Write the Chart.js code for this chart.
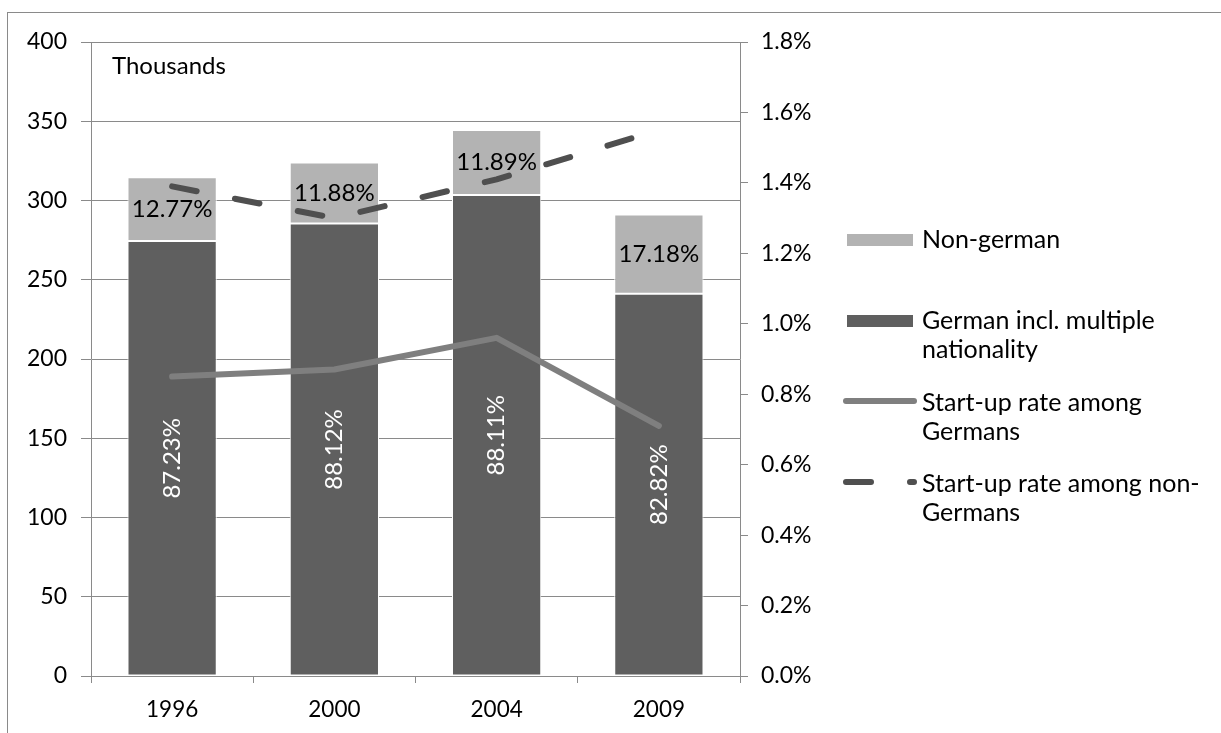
<!DOCTYPE html>
<html>
<head>
<meta charset="utf-8">
<script src="https://cdn.jsdelivr.net/npm/chart.js@4.4.1/dist/chart.umd.min.js"></script>
<style>
  html, body { margin: 0; padding: 0; background: #ffffff; }
  canvas { display: block; }
</style>
</head>
<body>
<canvas id="chart" width="1221" height="733"></canvas>
<script>
// values (thousands / percent)
const years = ["1996", "2000", "2004", "2009"];
const germanValues = [274.4, 285.5, 303.5, 241.1];
const nonGermanValues = [40.2, 38.5, 41.0, 50.0];
const germanShareLabels = ["87.23%", "88.12%", "88.11%", "82.82%"];
const nonGermanShareLabels = ["12.77%", "11.88%", "11.89%", "17.18%"];
const rateGermans = [0.85, 0.87, 0.96, 0.71];
const rateNonGermans = [1.39, 1.30, 1.41, 1.55];

const FONT = "Lato, 'Open Sans', sans-serif";
const gridColor = "#8a8a8a";

const legendEntries = [
  { ds: 1, lines: ["Non-german"] },
  { ds: 0, lines: ["German incl. multiple", "nationality"] },
  { ds: 2, lines: ["Start-up rate among", "Germans"] },
  { ds: 3, lines: ["Start-up rate among non-", "Germans"] }
];

// frame, "Thousands", data labels and the legend
const extras = {
  id: "extras",
  beforeDraw (chart) {
    const ctx = chart.ctx;
    ctx.save();
    ctx.strokeStyle = gridColor;
    ctx.lineWidth = 1;
    ctx.strokeRect(7.5, 12.5, 1400, 900);
    ctx.restore();
  },
  afterDatasetsDraw (chart) {
    const ctx = chart.ctx;
    const area = chart.chartArea;
    ctx.save();
    ctx.font = `24px ${FONT}`;
    ctx.fillStyle = "#000";
    ctx.textBaseline = "middle";
    ctx.textAlign = "left";
    ctx.fillText("Thousands", area.left + 21, area.top + 24);

    // labels inside the bars
    ctx.textAlign = "center";
    chart.getDatasetMeta(1).data.forEach((bar, i) => {
      ctx.fillStyle = "#000";
      ctx.fillText(nonGermanShareLabels[i], bar.x, (bar.y + bar.base) / 2);
    });
    chart.getDatasetMeta(0).data.forEach((bar, i) => {
      ctx.save();
      ctx.translate(bar.x, (bar.y + bar.base) / 2);
      ctx.rotate(-Math.PI / 2);
      ctx.fillStyle = "#fff";
      ctx.fillText(germanShareLabels[i], 0, 0);
      ctx.restore();
    });

    // legend
    ctx.font = `25px ${FONT}`;
    const firstY = [240, 321, 403, 484];
    ctx.textAlign = "left";
    legendEntries.forEach((entry, k) => {
      const ds = chart.data.datasets[entry.ds];
      const y = firstY[k];
      if (ds.type === "line") {
        ctx.save();
        ctx.strokeStyle = ds.borderColor;
        ctx.lineWidth = ds.borderWidth;
        ctx.lineCap = "round";
        ctx.setLineDash(ds.borderDash || []);
        ctx.beginPath();
        ctx.moveTo(846, y - 2);
        ctx.lineTo(914, y - 2);
        ctx.stroke();
        ctx.restore();
      } else {
        ctx.fillStyle = ds.backgroundColor;
        ctx.fillRect(847, y - 6, 66, 12);
      }
      ctx.fillStyle = "#000";
      entry.lines.forEach((t, j) => ctx.fillText(t, 922, y + j * 29));
    });
    ctx.restore();
  }
};

new Chart(document.getElementById("chart"), {
  data: {
    labels: years,
    datasets: [
      {
        type: "bar",
        label: "German incl. multiple nationality",
        data: germanValues,
        backgroundColor: "#5f5f5f",
        borderColor: "#ffffff",
        borderWidth: 1,
        borderSkipped: false,
        barPercentage: 0.55,
        categoryPercentage: 1,
        yAxisID: "y",
        order: 2
      },
      {
        type: "bar",
        label: "Non-german",
        data: nonGermanValues,
        backgroundColor: "#b3b3b3",
        borderColor: "#ffffff",
        borderWidth: 1,
        borderSkipped: false,
        barPercentage: 0.55,
        categoryPercentage: 1,
        yAxisID: "y",
        order: 2
      },
      {
        type: "line",
        label: "Start-up rate among Germans",
        data: rateGermans,
        borderColor: "#7f7f7f",
        borderWidth: 6,
        borderCapStyle: "round",
        borderJoinStyle: "round",
        pointRadius: 0,
        tension: 0,
        yAxisID: "y1",
        order: 1
      },
      {
        type: "line",
        label: "Start-up rate among non-Germans",
        data: rateNonGermans,
        borderColor: "#4f4f4f",
        borderWidth: 6,
        borderDash: [25, 39],
        borderCapStyle: "round",
        borderJoinStyle: "round",
        pointRadius: 0,
        tension: 0,
        yAxisID: "y1",
        order: 0
      }
    ]
  },
  options: {
    responsive: false,
    animation: false,
    layout: { padding: { top: 42, left: 0, right: 0, bottom: 0 } },
    plugins: {
      legend: { display: false },
      tooltip: { enabled: false }
    },
    scales: {
      x: {
        stacked: true,
        afterFit (scale) { scale.height = 57; },
        grid: {
          display: true,
          drawOnChartArea: false,
          offset: true,
          color: gridColor,
          tickLength: 7
        },
        border: { display: true, color: gridColor },
        ticks: { color: "#000", font: { family: FONT, size: 22.5 }, padding: 13 }
      },
      y: {
        stacked: true,
        position: "left",
        min: 0,
        max: 400,
        afterFit (scale) { scale.width = 91; },
        grid: { color: gridColor, tickLength: 10 },
        border: { display: true, color: gridColor },
        ticks: { stepSize: 50, color: "#000", font: { family: FONT, size: 23 }, padding: 14 }
      },
      y1: {
        position: "right",
        min: 0,
        max: 1.8,
        afterFit (scale) { scale.width = 481; },
        grid: { drawOnChartArea: false, color: gridColor, tickLength: 8 },
        border: { display: true, color: gridColor },
        ticks: {
          stepSize: 0.2,
          color: "#000",
          font: { family: FONT, size: 23 },
          padding: 13,
          callback: (v) => v.toFixed(1) + "%"
        }
      }
    }
  },
  plugins: [extras]
});
</script>
</body>
</html>
